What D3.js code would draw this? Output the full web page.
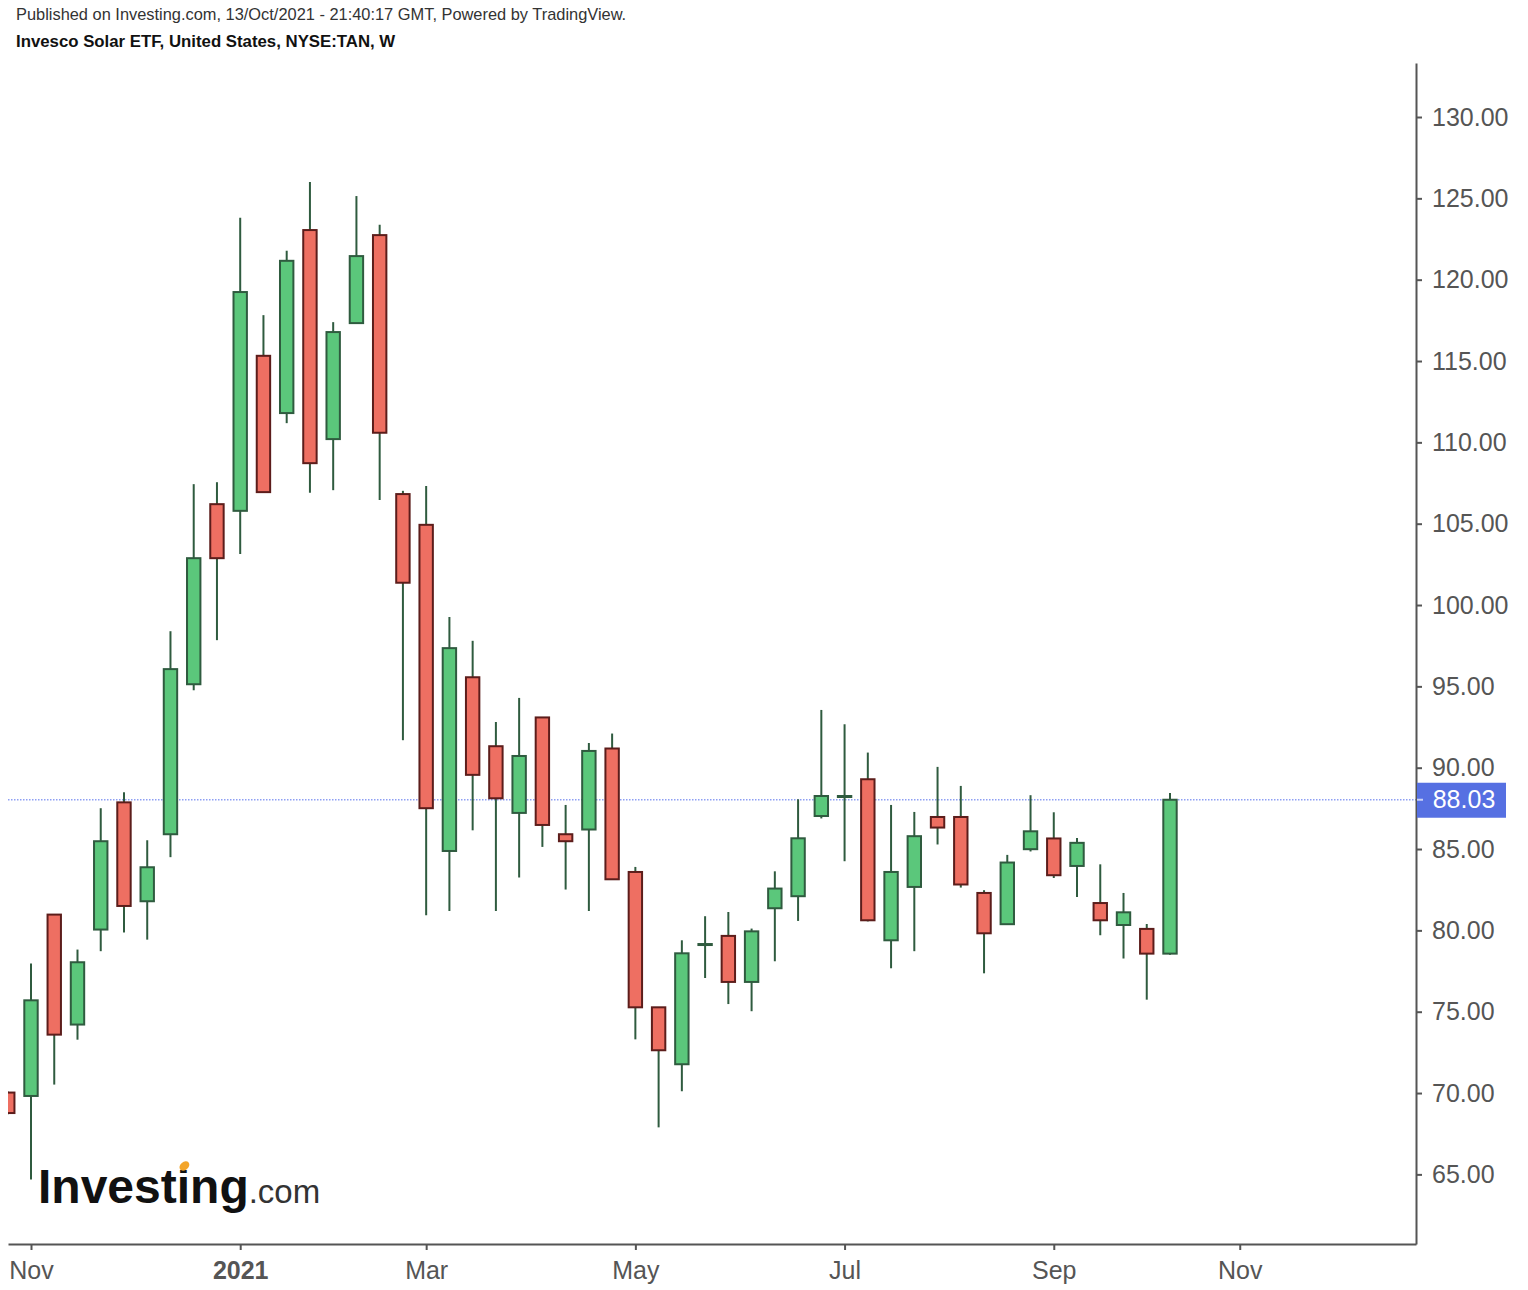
<!DOCTYPE html>
<html lang="en">
<head>
<meta charset="UTF-8">
<title>Invesco Solar ETF, NYSE:TAN, W</title>
<style>
  body { margin: 0; background: #fff; }
  svg text { font-family: "Liberation Sans", Arial, sans-serif; }
  .axis path, .axis line { stroke: #555; stroke-width: 2px; }
  .axis text { fill: #555; font-size: 25px; }
  .wick { stroke: #2f5b3f; stroke-width: 2px; }
  .up { fill: #5bc77b; stroke: #2f5b3f; stroke-width: 2px; }
  .down { fill: #ee6f62; stroke: #5c1d1b; stroke-width: 2px; }
</style>
</head>
<body>
<svg width="1528" height="1290"></svg>
<script src="https://d3js.org/d3.v7.min.js"></script>
<script>
// weekly bars (Monday of each week)
var dates = ["2020-10-26","2020-11-02","2020-11-09","2020-11-16","2020-11-23","2020-11-30","2020-12-07","2020-12-14","2020-12-21","2020-12-28",
  "2021-01-04","2021-01-11","2021-01-18","2021-01-25","2021-02-01","2021-02-08","2021-02-15","2021-02-22","2021-03-01","2021-03-08",
  "2021-03-15","2021-03-22","2021-03-29","2021-04-05","2021-04-12","2021-04-19","2021-04-26","2021-05-03","2021-05-10","2021-05-17",
  "2021-05-24","2021-05-31","2021-06-07","2021-06-14","2021-06-21","2021-06-28","2021-07-05","2021-07-12","2021-07-19","2021-07-26",
  "2021-08-02","2021-08-09","2021-08-16","2021-08-23","2021-08-30","2021-09-06","2021-09-13","2021-09-20","2021-09-27","2021-10-04","2021-10-11"];

var opens  = [70.03, 69.82, 80.97, 74.21, 80.05, 87.87, 81.79, 85.91, 95.13, 106.20, 105.79, 115.32, 111.80, 123.05, 110.20, 117.33, 122.74,
  106.82, 104.93, 84.88, 95.56, 91.32, 87.22, 93.09, 85.91, 86.20, 91.18, 83.59, 75.27, 71.77, 79.10, 79.66, 76.83, 81.36, 82.10, 87.03,
  88.22, 89.29, 79.39, 82.67, 86.97, 86.97, 82.30, 80.38, 84.99, 85.65, 83.96, 81.68, 80.33, 80.09, 78.57];
var highs  = [70.10, 77.96, 80.97, 78.82, 87.51, 88.49, 85.54, 98.39, 107.43, 107.55, 123.81, 117.82, 121.78, 126.00, 117.39, 125.14, 123.38,
  107.02, 107.31, 99.27, 97.80, 92.81, 94.29, 93.09, 87.71, 91.52, 92.10, 83.90, 75.27, 79.39, 80.87, 81.13, 80.11, 83.63, 88.06, 93.55,
  92.67, 90.93, 87.71, 87.28, 90.05, 88.88, 82.47, 84.64, 88.31, 87.26, 85.68, 84.06, 82.30, 80.39, 88.45];
var lows   = [68.70, 64.68, 70.52, 73.28, 78.72, 79.87, 79.43, 84.50, 94.76, 97.84, 103.13, 106.90, 111.18, 106.90, 107.06, 117.30, 106.45,
  91.69, 80.93, 81.19, 86.15, 81.19, 83.25, 85.13, 82.51, 81.19, 83.10, 73.30, 67.89, 70.11, 77.07, 75.47, 75.03, 78.10, 80.58, 86.88,
  84.25, 80.55, 77.67, 78.72, 85.28, 82.63, 77.36, 80.38, 84.85, 83.22, 82.05, 79.70, 78.27, 75.74, 78.50];
var closes = [68.77, 75.70, 73.59, 78.04, 85.48, 81.50, 83.88, 96.06, 102.88, 102.88, 119.24, 106.94, 121.16, 108.72, 116.78, 121.45, 110.59,
  101.37, 87.51, 97.35, 89.56, 88.12, 90.72, 86.48, 85.48, 91.03, 83.14, 75.27, 72.63, 78.59, 79.16, 76.83, 79.94, 82.57, 85.66, 88.26,
  88.26, 80.62, 83.59, 85.79, 86.32, 82.82, 79.82, 84.17, 86.09, 83.39, 85.38, 80.62, 81.11, 78.57, 88.03];

var xTickDates  = ["2020-11-02","2021-01-04","2021-03-01","2021-05-03","2021-07-05","2021-09-06","2021-11-01"];
var xTickLabels = ["Nov","2021","Mar","May","Jul","Sep","Nov"];
var yTicks = [65, 70, 75, 80, 85, 90, 95, 100, 105, 110, 115, 120, 125, 130];

var parse = d3.utcParse("%Y-%m-%d");
var bars = dates.map(function(d, i) {
  return {date: parse(d), o: opens[i], h: highs[i], l: lows[i], c: closes[i]};
});
var lastPrice = closes[closes.length - 1];

var svg = d3.select("svg");
var plotL = 8, plotR = 1416, plotT = 63, plotB = 1244;

// bar of 2020-11-02 sits at x=31, last bar at x=1170; stretch to the plot edges
var x = d3.scaleUtc()
    .domain([parse("2020-11-02"), parse("2021-10-11")])
    .range([31, 1170]);
x.domain([x.invert(plotL), x.invert(plotR)]).range([plotL, plotR]);

var y = d3.scaleLinear().domain([60.72, 133.32]).range([plotB, plotT]);

// header
svg.append("text").attr("x", 16).attr("y", 20)
    .style("font-size", "16.4px").style("fill", "#333")
    .text("Published on Investing.com, 13/Oct/2021 - 21:40:17 GMT, Powered by TradingView.");
svg.append("text").attr("x", 16).attr("y", 47)
    .style("font-size", "16.8px").style("font-weight", "bold").style("fill", "#111")
    .text("Invesco Solar ETF, United States, NYSE:TAN, W");

svg.append("clipPath").attr("id", "plot")
  .append("rect").attr("x", plotL).attr("y", plotT)
    .attr("width", plotR - plotL).attr("height", plotB - plotT);

var plot = svg.append("g").attr("clip-path", "url(#plot)");

// last price line
plot.append("line")
    .attr("x1", plotL).attr("x2", plotR)
    .attr("y1", y(lastPrice)).attr("y2", y(lastPrice))
    .attr("stroke", "#8e9ff4").attr("stroke-width", 1.3)
    .attr("stroke-dasharray", "1.5,1.5");

var candle = plot.selectAll(".candle")
    .data(bars)
  .enter().append("g")
    .attr("class", "candle");

candle.append("line")
    .attr("class", "wick")
    .attr("x1", function(d) { return x(d.date); })
    .attr("x2", function(d) { return x(d.date); })
    .attr("y1", function(d) { return y(d.h); })
    .attr("y2", function(d) { return y(d.l); });

var bodyW = 13.4;
candle.append("rect")
    .attr("class", function(d) { return d.c >= d.o ? "up" : "down"; })
    .attr("x", function(d) { return x(d.date) - bodyW / 2; })
    .attr("width", bodyW)
    .attr("y", function(d) { return y(Math.max(d.o, d.c)); })
    .attr("height", function(d) { return Math.max(Math.abs(y(d.o) - y(d.c)), 1); });

// axes
var xAxis = svg.append("g")
    .attr("class", "axis")
    .attr("transform", "translate(0," + plotB + ")")
    .call(d3.axisBottom(x)
        .tickValues(xTickDates.map(parse))
        .tickFormat(function(d, i) { return xTickLabels[i]; })
        .tickSize(6).tickSizeOuter(0).tickPadding(11));
xAxis.selectAll("text")
    .style("font-weight", function(d, i) { return xTickLabels[i] === "2021" ? "bold" : "normal"; });

svg.append("g")
    .attr("class", "axis")
    .attr("transform", "translate(" + plotR + ",0)")
    .call(d3.axisRight(y)
        .tickValues(yTicks)
        .tickFormat(d3.format(".2f"))
        .tickSize(6).tickSizeOuter(0).tickPadding(10))
  .selectAll("text")
    .attr("text-anchor", "start");

// last price label
var lbl = svg.append("g").attr("transform", "translate(" + (plotR + 1) + "," + y(lastPrice) + ")");
lbl.append("rect").attr("x", 0).attr("y", -17).attr("width", 89).attr("height", 35)
    .attr("fill", "#5670e2");
lbl.append("line").attr("x1", 0).attr("x2", 6).attr("y1", 0).attr("y2", 0)
    .attr("stroke", "#c8d0f5").attr("stroke-width", 2);
lbl.append("text").attr("x", 47).attr("y", 0).attr("dy", "0.35em")
    .attr("text-anchor", "middle")
    .style("font-size", "25px").style("fill", "#fff")
    .text(lastPrice.toFixed(2));

// watermark logo
var logo = svg.append("text").attr("x", 38).attr("y", 1203);
logo.append("tspan")
    .style("font-size", "48px").style("font-weight", "bold").style("fill", "#111")
    .text("Investing");
logo.append("tspan")
    .style("font-size", "33px").style("fill", "#333")
    .text(".com");
var iStart = logo.node().getSubStringLength(0, 6);
var iW = logo.node().getSubStringLength(6, 1);
var ix = 38 + iStart + iW / 2;
svg.append("rect").attr("x", ix - 7).attr("y", 1155).attr("width", 14).attr("height", 15).attr("fill", "#fff");
svg.append("ellipse").attr("cx", ix + 1).attr("cy", 1166).attr("rx", 5.5).attr("ry", 4)
    .attr("transform", "rotate(-40," + (ix + 1) + ",1166)")
    .attr("fill", "#f3a52a");
</script>
</body>
</html>
